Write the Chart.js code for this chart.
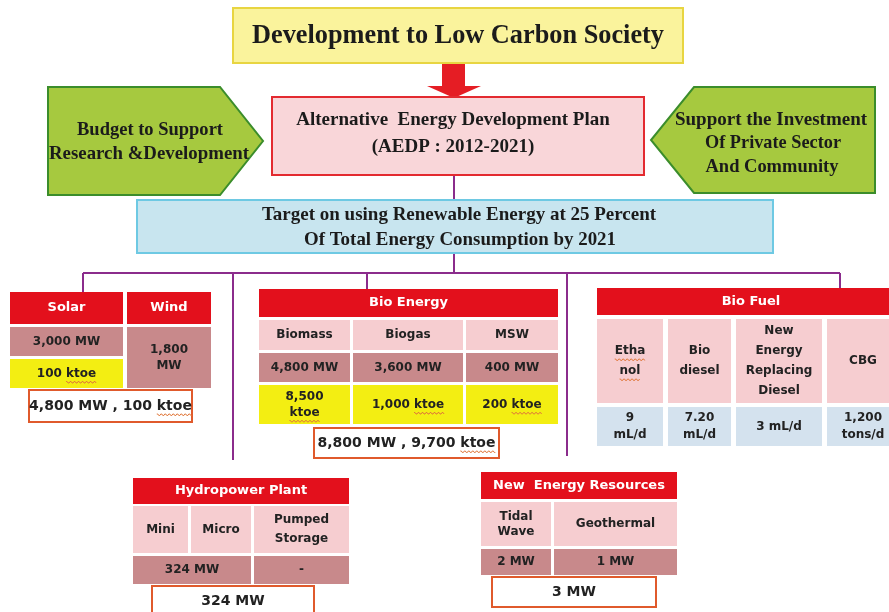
<!DOCTYPE html>
<html>
<head>
<meta charset="utf-8">
<script src="https://cdn.jsdelivr.net/npm/chart.js@4"></script>
<style>
  html, body { margin: 0; padding: 0; background: #fff; }
  #wrap { width: 889px; height: 612px; }
</style>
</head>
<body>
<div id="wrap"><canvas id="myChart" width="889" height="612"></canvas></div>
<script>
// texts of the diagram
var titleText = "Development to Low Carbon Society";
var planLines = ["Alternative  Energy Development Plan", "(AEDP : 2012-2021)"];
var leftNote = ["Budget to Support", "Research &Development"];
var rightNote = ["Support the Investment", "Of Private Sector", "And Community"];
var targetLines = ["Target on using Renewable Energy at 25 Percent", "Of Total Energy Consumption by 2021"];

var solarWindHeads = ["Solar", "Wind"];
var solarValues = ["3,000 MW", "100 ktoe"];
var windValue = "1,800\nMW";
var solarWindTotal = "4,800 MW , 100 ktoe";

var bioEnergyTitle = "Bio Energy";
var bioEnergyHeads = ["Biomass", "Biogas", "MSW"];
var bioEnergyMW = ["4,800 MW", "3,600 MW", "400 MW"];
var bioEnergyKtoe = ["8,500\nktoe", "1,000 ktoe", "200 ktoe"];
var bioEnergyTotal = "8,800 MW , 9,700 ktoe";

var bioFuelTitle = "Bio Fuel";
var bioFuelHeads = ["Etha\nnol", "Bio\ndiesel", "New\nEnergy\nReplacing\nDiesel", "CBG"];
var bioFuelValues = ["9\nmL/d", "7.20\nmL/d", "3 mL/d", "1,200\ntons/d"];

var hydroTitle = "Hydropower Plant";
var hydroHeads = ["Mini", "Micro", "Pumped\nStorage"];
var hydroValues = ["324 MW", "-"];
var hydroTotal = "324 MW";

var newEnergyTitle = "New  Energy Resources";
var newEnergyHeads = ["Tidal\nWave", "Geothermal"];
var newEnergyValues = ["2 MW", "1 MW"];
var newEnergyTotal = "3 MW";

var RED = "#e3101c", PINK = "#f6cdd0", ROSE = "#c8898b", YEL = "#f3ee12", LBLUE = "#d4e2ee";
var PURPLE = "#8b2c8c", INK = "#222222";
var SERIF = "bold 19px 'Liberation Serif', serif";
var CELL = "bold 12px 'DejaVu Sans', sans-serif";
var HEAD = "bold 13px 'DejaVu Sans', sans-serif";
var TOTAL = "bold 14px 'DejaVu Sans', sans-serif";
var squiggleWords = ["ktoe", "Etha", "nol"];

var diagram = {
  id: "diagram",
  afterDraw: function (chart) {
    var ctx = chart.ctx;
    var xs = chart.scales.x, ys = chart.scales.y;
    function px(v) { return xs.getPixelForValue(v); }
    function py(v) { return ys.getPixelForValue(v); }

    function box(x1, y1, x2, y2, fill, stroke, lw) {
      ctx.save();
      if (fill) { ctx.fillStyle = fill; ctx.fillRect(px(x1), py(y1), px(x2) - px(x1), py(y2) - py(y1)); }
      if (stroke) {
        ctx.strokeStyle = stroke; ctx.lineWidth = lw || 1;
        ctx.strokeRect(px(x1), py(y1), px(x2) - px(x1), py(y2) - py(y1));
      }
      ctx.restore();
    }

    function squiggle(x, y, w) {
      ctx.save();
      ctx.strokeStyle = "#e0773a"; ctx.lineWidth = 1;
      ctx.beginPath();
      for (var i = 0; i <= w; i += 1) {
        var yy = y + ((i % 4) < 2 ? 0 : 1.5);
        if (i == 0) ctx.moveTo(x + i, yy); else ctx.lineTo(x + i, yy);
      }
      ctx.stroke();
      ctx.restore();
    }

    function text(str, cx, cy, font, color, lh, maxW) {
      var lines = Array.isArray(str) ? str : str.split("\n");
      ctx.save();
      ctx.font = font; ctx.fillStyle = color;
      ctx.textAlign = "center"; ctx.textBaseline = "middle";
      var top = py(cy) - (lines.length - 1) * lh / 2;
      lines.forEach(function (ln, i) {
        var y = top + i * lh;
        if (maxW) ctx.fillText(ln, px(cx), y, maxW); else ctx.fillText(ln, px(cx), y);
        if (!maxW) {
          var full = ctx.measureText(ln).width;
          squiggleWords.forEach(function (w) {
            var k = ln.indexOf(w);
            if (k >= 0) {
              var off = ctx.measureText(ln.slice(0, k)).width;
              var ww = ctx.measureText(w).width;
              squiggle(px(cx) - full / 2 + off, y + 8, ww);
            }
          });
        }
      });
      ctx.restore();
    }

    function cell(x1, y1, x2, y2, fill, str, color, font, lh) {
      box(x1, y1, x2, y2, fill);
      text(str, (x1 + x2) / 2, (y1 + y2) / 2, font || CELL, color || INK, lh || 16);
    }

    function total(x1, y1, x2, y2, str) {
      box(x1, y1, x2, y2, "#ffffff", "#e05a2c", 2);
      text(str, (x1 + x2) / 2, (y1 + y2) / 2, TOTAL, "#222", 16);
    }

    function poly(pts, fill, stroke, lw) {
      ctx.save();
      ctx.beginPath();
      pts.forEach(function (p, i) { if (i == 0) ctx.moveTo(px(p[0]), py(p[1])); else ctx.lineTo(px(p[0]), py(p[1])); });
      ctx.closePath();
      ctx.fillStyle = fill; ctx.fill();
      if (stroke) { ctx.strokeStyle = stroke; ctx.lineWidth = lw; ctx.stroke(); }
      ctx.restore();
    }

    function line(x1, y1, x2, y2) {
      ctx.save();
      ctx.strokeStyle = PURPLE; ctx.lineWidth = 2;
      ctx.beginPath(); ctx.moveTo(px(x1), py(y1)); ctx.lineTo(px(x2), py(y2)); ctx.stroke();
      ctx.restore();
    }

    // connectors
    line(454, 175, 454, 200);
    line(454, 253, 454, 273);
    line(83, 273, 840, 273);
    line(83, 273, 83, 292);
    line(233, 273, 233, 460);
    line(367, 273, 367, 289);
    line(567, 273, 567, 456);
    line(840, 273, 840, 288);

    // top part
    box(233, 8, 683, 63, "#faf39c", "#e8d541", 2);
    text(titleText, 458, 36, "bold 28px 'Liberation Serif', serif", "#1b1b1b", 20, 412);

    poly([[442, 64], [465, 64], [465, 86], [481, 86], [454, 98], [427, 86], [442, 86]], "#e51d24");

    box(272, 97, 644, 175, "#f9d6d9", "#e32a30", 2);
    text(planLines[0], 453, 120, SERIF, "#1b1b1b", 20, 322);
    text(planLines[1], 453, 147, SERIF, "#1b1b1b", 20, 166);

    poly([[48, 87], [220, 87], [263, 141], [220, 195], [48, 195]], "#a6c93f", "#3b8d2b", 2);
    text(leftNote[0], 150, 130, SERIF, "#1b1b1b", 20, 146);
    text(leftNote[1], 149, 154, SERIF, "#1b1b1b", 20, 200);

    poly([[694, 87], [875, 87], [875, 193], [694, 193], [651, 140]], "#a6c93f", "#3b8d2b", 2);
    text(rightNote[0], 771, 120, SERIF, "#1b1b1b", 20, 194);
    text(rightNote[1], 773, 143, SERIF, "#1b1b1b", 20, 136);
    text(rightNote[2], 772, 167, SERIF, "#1b1b1b", 20, 133);

    box(137, 200, 773, 253, "#c8e5ef", "#6ec9e3", 2);
    text(targetLines[0], 459, 215, SERIF, "#1b1b1b", 20, 396);
    text(targetLines[1], 460, 240, SERIF, "#1b1b1b", 20, 312);

    // solar & wind
    cell(10, 292, 123, 324, RED, solarWindHeads[0], "#fff", HEAD);
    cell(127, 292, 211, 324, RED, solarWindHeads[1], "#fff", HEAD);
    cell(10, 327, 123, 356, ROSE, solarValues[0]);
    cell(10, 359, 123, 388, YEL, solarValues[1]);
    cell(127, 327, 211, 388, ROSE, windValue);
    total(29, 390, 192, 422, solarWindTotal);

    // bio energy
    var beX = [[259, 350], [353, 463], [466, 558]];
    cell(259, 289, 558, 317, RED, bioEnergyTitle, "#fff", HEAD);
    beX.forEach(function (c, i) {
      cell(c[0], 320, c[1], 350, PINK, bioEnergyHeads[i]);
      cell(c[0], 353, c[1], 382, ROSE, bioEnergyMW[i]);
      cell(c[0], 385, c[1], 424, YEL, bioEnergyKtoe[i]);
    });
    total(314, 428, 499, 458, bioEnergyTotal);

    // bio fuel
    var bfX = [[597, 663], [668, 731], [736, 822], [827, 899]];
    cell(597, 288, 905, 315, RED, bioFuelTitle, "#fff", HEAD);
    bfX.forEach(function (c, i) {
      cell(c[0], 319, c[1], 403, PINK, bioFuelHeads[i], INK, CELL, 20);
      cell(c[0], 407, c[1], 446, LBLUE, bioFuelValues[i], INK, CELL, 17);
    });

    // hydropower
    var hyX = [[133, 188], [191, 251], [254, 349]];
    cell(133, 478, 349, 504, RED, hydroTitle, "#fff", HEAD);
    hyX.forEach(function (c, i) {
      cell(c[0], 506, c[1], 553, PINK, hydroHeads[i], INK, CELL, 19);
    });
    cell(133, 556, 251, 584, ROSE, hydroValues[0]);
    cell(254, 556, 349, 584, ROSE, hydroValues[1]);
    total(152, 586, 314, 616, hydroTotal);

    // new energy
    var neX = [[481, 551], [554, 677]];
    cell(481, 472, 677, 499, RED, newEnergyTitle, "#fff", HEAD);
    neX.forEach(function (c, i) {
      cell(c[0], 502, c[1], 546, PINK, newEnergyHeads[i], INK, CELL, 15);
      cell(c[0], 549, c[1], 575, ROSE, newEnergyValues[i]);
    });
    total(492, 577, 656, 607, newEnergyTotal);
  }
};

var config = {
  type: "scatter",
  data: { datasets: [] },
  options: {
    responsive: false,
    animation: false,
    layout: { padding: 0 },
    scales: {
      x: { type: "linear", min: 0, max: 889, display: false },
      y: { type: "linear", min: 0, max: 612, reverse: true, display: false }
    },
    plugins: { legend: { display: false }, tooltip: { enabled: false } }
  },
  plugins: [diagram]
};

var myChart = new Chart(document.getElementById("myChart"), config);
</script>
</body>
</html>
